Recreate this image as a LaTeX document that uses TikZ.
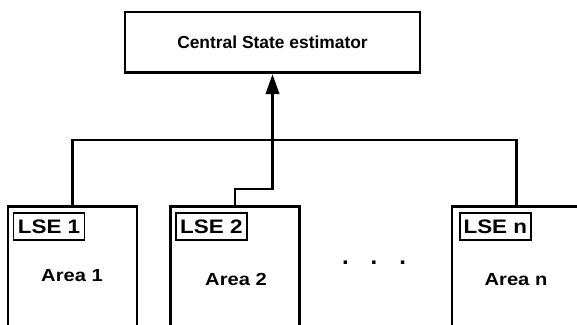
\documentclass[tikz,border=0pt]{standalone}
\usepackage{fontspec}
\setmainfont{Liberation Sans}
\newfontfamily\widesans[FakeStretch=1.15]{Liberation Sans}
\usetikzlibrary{arrows.meta,positioning,calc}

\begin{document}
\begin{tikzpicture}[x=1pt,y=-1pt,
  hub/.style={draw,line width=2.9pt,minimum width=295pt,minimum height=60.7pt,
    font=\fontsize{17.4}{20}\selectfont\bfseries},
  areabox/.style={draw,line width=2.9pt,minimum width=129pt,minimum height=140pt,
    anchor=north},
  lsebox/.style={draw,line width=1.7pt,minimum width=71pt,minimum height=27pt,
    inner sep=0pt,anchor=north west,font=\widesans\fontsize{19.5}{20}\selectfont\bfseries},
  areatext/.style={anchor=base,inner sep=0pt,font=\widesans\fontsize{17.5}{20}\selectfont\bfseries},
  wire/.style={line width=2.9pt},
  uplink/.style={line width=2.9pt,-{Triangle[length=20pt,width=13.3pt]}}]
  \path[use as bounding box] (0,0) rectangle (577,324);
  \clip (0,0) rectangle (577,324);

  % Central estimator (top)
  \node[hub] (cse) at (272.5,42.3) {Central State estimator};

  % Areas with local estimators
  \node[areabox] (area1) at (72.5,205) {};
  \node[areabox] (area2) at (235,205) {};
  \node[areabox] (arean) at (516.5,205) {};
  \node[lsebox] (lse1) at (12.7,212) {LSE 1};
  \node[lsebox] (lse2) at (175,212) {LSE 2};
  \node[lsebox] (lsen) at (459,212) {LSE n};
  \node[areatext] (txt1) at (72,281) {Area 1};
  \node[areatext] (txt2) at (236,285) {Area 2};
  \node[areatext] (txtn) at (516,285) {Area n};
  \node[areatext,font=\fontsize{24}{24}\selectfont\bfseries] (dots) at (374,264.5)
    {.\hspace{22pt}.\hspace{22pt}.};

  % Bus and link to the centre
  \draw[wire] (area1.north) -- ++(0,-65) -| (arean.north);
  \draw[uplink] (area2.north) -- ++(0,-16) -| (cse.south);
\end{tikzpicture}
\end{document}
